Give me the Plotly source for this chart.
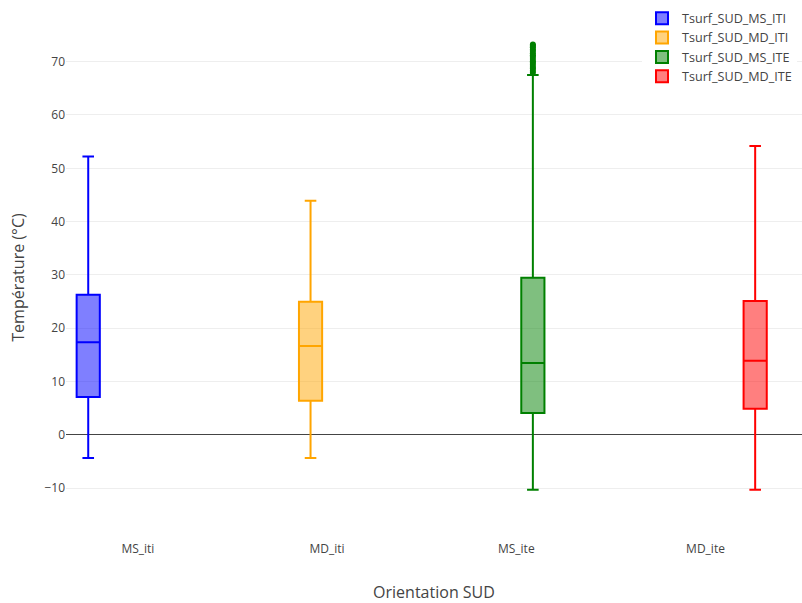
import plotly.graph_objects as go

categories = ["MS_iti", "MD_iti", "MS_ite", "MD_ite"]
names = ["Tsurf_SUD_MS_ITI", "Tsurf_SUD_MD_ITI", "Tsurf_SUD_MS_ITE", "Tsurf_SUD_MD_ITE"]
colors = ["blue", "orange", "green", "red"]

lower_fence = [-4.3, -4.3, -10.3, -10.3]
q1 = [7.1, 6.4, 4.1, 4.9]
median = [17.4, 16.7, 13.5, 13.9]
q3 = [26.3, 25.0, 29.5, 25.1]
upper_fence = [52.2, 43.9, 67.5, 54.2]

# outliers above the upper fence (MS_ite only)
outliers = [[], [], [67.9, 68.3, 68.7, 69.0, 69.4, 69.8, 70.1, 70.5, 70.9, 71.2,
                     71.6, 72.0, 72.3, 72.7, 73.0, 73.2], []]

fig = go.Figure()
for i in range(4):
    kw = {}
    if outliers[i]:
        kw = dict(y=[outliers[i]], boxpoints="outliers")
    fig.add_trace(go.Box(
        x=[categories[i]], name=names[i],
        q1=[q1[i]], median=[median[i]], q3=[q3[i]],
        lowerfence=[lower_fence[i]], upperfence=[upper_fence[i]],
        line=dict(color=colors[i], width=2),
        marker=dict(color=colors[i], size=6),
        **kw,
    ))

fig.update_layout(
    template="none",
    width=802, height=603,
    boxmode="group",
    font=dict(family="Open Sans, verdana, arial, sans-serif", size=12, color="#444"),
    margin=dict(l=66, r=0, t=15, b=63),
    plot_bgcolor="white", paper_bgcolor="white",
    legend=dict(x=0.7826, xanchor="left", y=1.022, yanchor="top", bgcolor="rgba(255,255,255,1)",
                font=dict(size=12.6)),
    xaxis=dict(title=dict(text="Orientation SUD", font=dict(size=16)), showgrid=False,
               categoryorder="array", categoryarray=categories, range=[-0.38, 3.51]),
    yaxis=dict(title=dict(text="Température (°C)", font=dict(size=16)), range=[-19.7, 78.75],
               dtick=10, gridcolor="#eee", zeroline=True, zerolinecolor="#444", zerolinewidth=1),
)

fig.write_html("out.html", config={"displayModeBar": False},
               post_script="document.body.style.margin='0';")
